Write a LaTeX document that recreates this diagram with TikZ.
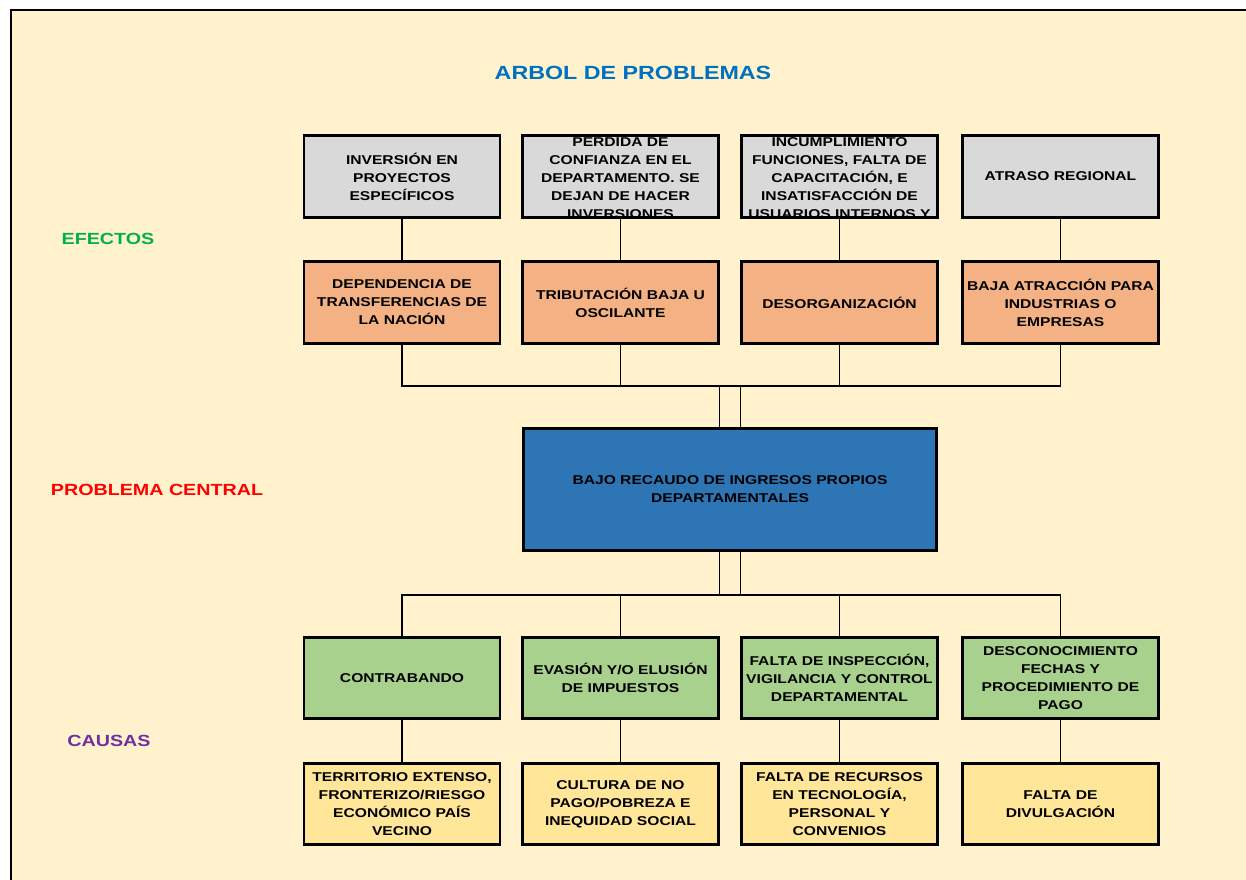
\documentclass[tikz,border=0pt]{standalone}
\usepackage{fontspec}
\setmainfont{Liberation Sans}[FakeStretch=1.22]
\definecolor{bgc}{HTML}{FFF2CC}
\definecolor{grayc}{HTML}{D9D9D9}
\definecolor{orangec}{HTML}{F4B183}
\definecolor{greenc}{HTML}{A9D18E}
\definecolor{yellowc}{HTML}{FFE699}
\definecolor{bluec}{HTML}{2E75B6}
\definecolor{titlec}{HTML}{0070C0}
\definecolor{efc}{HTML}{00B050}
\definecolor{cauc}{HTML}{7030A0}
\tikzset{
  box/.style={draw=black, line width=2.2pt, minimum width=147pt, minimum height=61pt, inner sep=0pt, align=center, font=\fontsize{9.6}{13.5}\selectfont\bfseries},
  conn/.style={draw=black, line width=1.3pt},
  lbl/.style={font=\fontsize{12.1}{14}\selectfont\bfseries, inner sep=0pt},
}
\begin{document}
\begin{tikzpicture}[x=0.75pt,y=-0.75pt]
\useasboundingbox (0,0) rectangle (1246,880);
\fill[white] (0,0) rectangle (1246,880);
\draw[fill=bgc, line width=1.5pt] (11,10) rectangle (1260,895);

\node[lbl, text=titlec, font=\fontsize{14.3}{16}\selectfont\bfseries] (title) at (633,73) {ARBOL DE PROBLEMAS};
\node[lbl, text=efc] (lef) at (108,239) {EFECTOS};
\node[lbl, text=red] (lpc) at (157,490) {PROBLEMA CENTRAL};
\node[lbl, text=cauc] (lca) at (109,741) {CAUSAS};

% top effects
\node[box, fill=grayc] (e1) at (402,176.5) {INVERSIÓN EN\\PROYECTOS\\ESPECÍFICOS};
\node[box, fill=grayc] (e2) at (620.5,176.5) {};
\node[box, fill=grayc] (e3) at (839.5,176.5) {};
\node[box, fill=grayc] (e4) at (1060.5,176.5) {ATRASO REGIONAL};
\begin{scope}
\clip ([shift={(1.1pt,1.1pt)}]e2.south west) rectangle ([shift={(-1.1pt,-1.1pt)}]e2.north east);
\node[align=center, inner sep=0pt, font=\fontsize{9.6}{13.5}\selectfont\bfseries] (t2) at (620.5,178) {PERDIDA DE\\CONFIANZA EN EL\\DEPARTAMENTO. SE\\DEJAN DE HACER\\INVERSIONES};
\end{scope}
\begin{scope}
\clip ([shift={(1.1pt,1.1pt)}]e3.south west) rectangle ([shift={(-1.1pt,-1.1pt)}]e3.north east);
\node[align=center, inner sep=0pt, font=\fontsize{9.6}{13.5}\selectfont\bfseries] (t3) at (839.5,178) {INCUMPLIMIENTO\\FUNCIONES, FALTA DE\\CAPACITACIÓN, E\\INSATISFACCIÓN DE\\USUARIOS INTERNOS Y};
\end{scope}

% orange
\node[box, fill=orangec] (o1) at (402,302.5) {DEPENDENCIA DE\\TRANSFERENCIAS DE\\LA NACIÓN};
\node[box, fill=orangec] (o2) at (620.5,302.5) {TRIBUTACIÓN BAJA U\\OSCILANTE};
\node[box, fill=orangec] (o3) at (839.5,302.5) {DESORGANIZACIÓN};
\node[box, fill=orangec] (o4) at (1060.5,302.5) {BAJA ATRACCIÓN PARA\\INDUSTRIAS O\\EMPRESAS};

% central
\node[box, fill=bluec, minimum width=310pt, minimum height=91.5pt] (pc) at (730,489.5) {BAJO RECAUDO DE INGRESOS PROPIOS\\DEPARTAMENTALES};

% green
\node[box, fill=greenc] (c1) at (402,678) {CONTRABANDO};
\node[box, fill=greenc] (c2) at (620.5,678) {EVASIÓN Y/O ELUSIÓN\\DE IMPUESTOS};
\node[box, fill=greenc] (c3) at (839.5,678) {FALTA DE INSPECCIÓN,\\VIGILANCIA Y CONTROL\\DEPARTAMENTAL};
\node[box, fill=greenc] (c4) at (1060.5,678) {DESCONOCIMIENTO\\FECHAS Y\\PROCEDIMIENTO DE\\PAGO};

% yellow
\node[box, fill=yellowc] (y1) at (402,804) {TERRITORIO EXTENSO,\\FRONTERIZO/RIESGO\\ECONÓMICO PAÍS\\VECINO};
\node[box, fill=yellowc] (y2) at (620.5,804) {CULTURA DE NO\\PAGO/POBREZA E\\INEQUIDAD SOCIAL};
\node[box, fill=yellowc] (y3) at (839.5,804) {FALTA DE RECURSOS\\EN TECNOLOGÍA,\\PERSONAL Y\\CONVENIOS};
\node[box, fill=yellowc] (y4) at (1060.5,804) {FALTA DE\\DIVULGACIÓN};

% connectors
\foreach \i in {1,...,4} {
  \draw[conn] (e\i.south) -- (o\i.north);
  \draw[conn] (c\i.south) -- (y\i.north);
}
\coordinate (busT) at (730,386);
\coordinate (busB) at (730,595);
\draw[conn] (o1.south) |- (busT) -| (o4.south);
\draw[conn] (o2.south) |- (busT);
\draw[conn] (o3.south) |- (busT);
\draw[conn] ([xshift=-7.9pt]busT) -- ([xshift=-7.9pt]pc.north);
\draw[conn] ([xshift=7.9pt]busT) -- ([xshift=7.9pt]pc.north);
\draw[conn] (c1.north) |- (busB) -| (c4.north);
\draw[conn] (c2.north) |- (busB);
\draw[conn] (c3.north) |- (busB);
\draw[conn] ([xshift=-7.9pt]pc.south) -- ([xshift=-7.9pt]busB);
\draw[conn] ([xshift=7.9pt]pc.south) -- ([xshift=7.9pt]busB);
\end{tikzpicture}
\end{document}
